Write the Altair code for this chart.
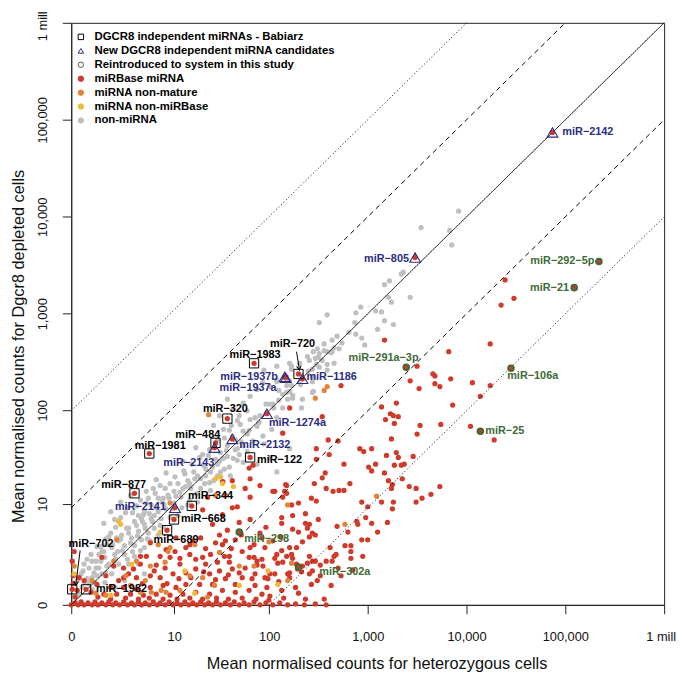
import math
import altair as alt
import pandas as pd

# ---------------------------------------------------------------
# Values, in axis units: log10(count + 1)
# (x = heterozygous cells, y = Dgcr8 depleted cells)
# ---------------------------------------------------------------
gray_log = [
    (3.92, 4.06), (3.54, 3.89), (3.83, 3.86), (3.85, 3.71), (3.36, 3.43), (3.34, 3.41), (3.22, 3.34), (3.17, 3.30),
    (3.21, 3.17), (3.24, 3.12), (3.43, 3.17), (3.08, 3.03), (3.14, 3.02), (3.17, 2.93), (3.26, 2.89), (3.10, 2.84),
    (2.88, 3.01), (2.59, 2.99), (2.51, 2.91), (2.87, 2.91), (2.81, 2.81), (2.88, 2.79), (2.69, 2.77), (2.94, 2.75),
    (2.97, 2.68), (2.64, 2.73), (2.74, 2.70), (2.56, 2.69), (2.49, 2.64), (2.45, 2.61), (2.51, 2.59), (2.59, 2.61),
    (2.64, 2.61), (2.39, 2.56), (2.47, 2.54), (2.54, 2.52), (2.66, 2.49), (2.59, 2.42), (2.21, 2.49), (2.23, 2.46),
    (1.95, 2.42), (2.08, 2.30), (1.97, 2.07), (2.04, 2.07), (2.21, 2.20), (2.24, 2.16), (2.19, 2.12), (2.32, 2.27),
    (2.44, 2.30), (2.45, 2.20), (2.93, 3.07), (2.31, 2.49), (2.23, 2.43), (2.44, 2.43), (2.40, 2.41), (2.44, 2.35),
    (2.51, 2.45), (2.23, 2.26), (2.18, 2.26), (2.18, 2.19), (2.14, 2.17), (2.10, 2.21), (2.10, 2.11), (2.05, 2.03),
    (2.14, 2.03), (2.01, 2.07), (2.24, 2.13), (2.44, 2.19), (2.33, 2.03), (2.34, 2.12), (2.21, 2.31), (2.08, 2.46),
    (2.66, 2.65), (2.71, 2.64), (2.63, 2.60), (2.56, 2.62), (2.50, 2.55), (2.41, 2.52), (2.48, 2.48), (2.59, 2.48),
    (1.64, 2.02), (1.74, 2.08), (1.81, 2.15), (1.88, 2.22), (1.94, 2.29), (2.01, 2.25), (2.08, 2.32), (2.18, 2.35),
    (1.58, 2.12), (1.68, 1.90), (1.81, 1.91), (1.88, 1.84), (1.91, 1.95), (1.74, 1.79), (1.54, 1.81), (1.63, 1.74),
    (1.58, 1.64), (1.68, 1.61), (1.74, 1.64), (1.84, 1.69), (1.94, 1.74), (2.03, 1.81), (2.08, 1.93), (1.51, 1.57),
    (1.39, 1.54), (1.54, 1.51), (1.64, 1.51), (1.74, 1.47), (1.48, 1.45), (1.34, 1.44), (1.41, 1.37), (1.51, 1.37),
    (1.61, 1.33), (1.24, 1.37), (1.31, 1.30), (1.44, 1.28), (1.54, 1.27), (1.18, 1.28), (1.08, 1.25), (1.21, 1.20),
    (1.31, 1.20), (1.41, 1.18), (1.04, 1.17), (0.98, 1.13), (1.11, 1.11), (0.88, 1.10), (0.81, 1.03), (0.94, 1.03),
    (1.04, 1.05), (0.74, 0.96), (0.88, 0.96), (0.71, 0.89), (0.81, 0.89), (0.91, 0.89), (0.64, 0.86), (0.74, 0.83),
    (0.84, 0.79), (0.58, 0.79), (0.68, 0.76), (0.78, 0.74), (0.88, 0.72), (0.51, 0.72), (0.61, 0.69), (0.71, 0.67),
    (0.48, 0.66), (0.54, 0.61), (0.64, 0.61), (0.74, 0.59), (0.41, 0.59), (0.44, 0.52), (0.54, 0.52), (0.64, 0.50),
    (0.34, 0.49), (0.38, 0.42), (0.48, 0.42), (0.58, 0.42), (0.28, 0.38), (0.31, 0.32), (0.41, 0.32), (0.21, 0.28),
    (0.14, 0.23), (0.24, 0.23), (0.34, 0.23), (0.11, 0.18), (0.21, 0.16), (0.08, 0.11), (0.28, 0.52), (0.21, 0.45),
    (0.18, 0.38), (1.18, 1.03), (1.28, 1.06), (0.68, 0.42), (0.74, 0.32), (0.54, 0.25), (0.44, 0.18), (1.88, 1.45),
    (2.01, 1.51), (2.21, 1.61), (2.08, 1.37), (0.40, 0.96), (0.33, 0.84), (0.20, 0.52), (0.13, 0.42), (0.10, 0.32),
    (0.06, 0.25), (0.50, 1.06), (0.60, 1.13), (0.76, 1.17), (0.83, 1.20), (0.90, 1.23), (1.00, 1.25), (0.93, 1.10),
    (0.73, 0.93), (0.56, 0.79), (0.46, 0.69), (0.36, 0.62), (0.30, 0.45), (0.25, 0.38), (0.36, 0.40), (0.45, 0.47),
    (0.52, 0.56), (0.60, 0.64), (0.67, 0.71), (0.75, 0.79), (0.82, 0.86), (0.96, 0.99), (1.02, 0.99), (1.10, 1.16),
    (1.16, 1.22), (1.25, 1.30), (1.36, 1.40), (1.46, 1.50), (1.57, 1.59), (1.66, 1.70), (1.78, 1.76), (1.86, 1.93),
    (0.26, 0.30), (0.16, 0.27), (0.31, 0.55), (0.40, 0.74), (0.50, 0.90), (0.66, 1.02), (0.86, 1.29), (0.96, 1.36),
    (1.13, 1.48), (1.26, 1.62), (1.44, 1.85), (1.50, 1.95), (0.57, 0.47), (0.70, 0.56), (0.80, 0.66), (0.93, 0.80),
    (1.08, 0.92), (1.20, 1.08), (1.35, 1.25), (1.48, 1.33), (1.60, 1.42), (1.70, 1.55),
    (0.30, 0.60), (0.38, 0.70), (0.45, 0.80), (0.55, 0.95), (0.62, 0.95), (0.70, 1.08), (0.78, 1.10), (0.85, 1.15),
    (0.95, 1.20), (1.05, 1.32), (1.15, 1.35), (1.22, 1.45), (1.30, 1.52), (1.40, 1.60), (1.48, 1.70), (1.55, 1.72),
    (1.62, 1.85), (1.70, 1.95), (1.78, 2.00), (0.25, 0.45), (0.33, 0.55), (0.42, 0.62), (0.50, 0.68), (0.58, 0.74),
    (0.66, 0.82), (0.72, 0.86), (0.79, 0.94), (0.86, 1.00), (0.92, 1.06), (0.99, 1.10), (1.06, 1.12), (1.13, 1.20),
    (1.20, 1.25), (1.28, 1.33), (1.36, 1.33), (1.43, 1.42), (1.50, 1.48), (1.58, 1.53), (1.66, 1.60), (1.72, 1.68),
    (1.80, 1.80), (1.90, 1.88), (1.98, 1.98), (0.18, 0.22), (0.23, 0.33), (0.35, 0.33), (0.47, 0.55), (0.62, 0.55),
    (0.77, 0.68), (0.90, 0.82), (1.00, 0.90), (1.12, 1.00), (1.27, 1.15), (1.40, 1.26), (1.55, 1.40), (1.68, 1.49),
    (1.78, 1.58), (1.95, 1.66), (0.12, 0.35), (0.16, 0.47), (0.26, 0.60), (0.35, 0.68), (0.44, 0.88), (0.57, 1.00),
    (0.68, 0.92), (0.76, 1.05), (0.84, 0.92), (1.14, 1.38), (1.33, 1.55), (1.46, 1.66), (1.60, 1.80), (1.71, 1.86),
]

red_log = [
    (4.39, 3.35), (4.48, 3.16), (4.35, 3.09), (4.24, 2.69), (3.82, 2.61), (3.50, 2.46), (3.66, 2.38), (3.68, 2.36),
    (3.84, 2.33), (3.52, 2.23), (3.68, 2.28), (3.73, 2.25), (4.06, 2.29), (4.24, 2.26), (4.14, 2.15), (3.86, 2.06),
    (3.53, 1.85), (3.74, 1.86), (4.04, 1.84), (4.28, 1.70), (3.50, 1.76), (3.17, 2.73), (3.43, 2.31), (2.73, 2.26),
    (2.21, 2.03), (2.54, 1.94), (3.14, 2.04), (3.29, 2.08), (3.23, 1.97), (3.26, 1.95), (3.31, 1.94), (3.18, 1.91),
    (3.27, 1.87), (3.24, 1.71), (2.14, 1.77), (2.60, 1.70), (2.70, 1.69), (2.48, 1.61), (3.04, 1.61), (2.92, 1.61),
    (2.96, 1.58), (3.19, 1.54), (3.29, 1.57), (3.31, 1.52), (3.46, 1.53), (3.27, 1.44), (3.34, 1.44), (3.37, 1.45),
    (2.61, 1.55), (2.48, 1.50), (2.76, 1.45), (3.01, 1.42), (3.04, 1.38), (3.08, 1.45), (3.17, 1.36), (2.57, 1.36),
    (2.54, 1.31), (3.21, 1.28), (3.25, 1.24), (3.24, 1.20), (2.82, 1.25), (2.76, 1.18), (2.71, 1.18), (2.65, 1.17),
    (2.58, 1.20), (2.46, 1.25), (2.17, 1.24), (2.06, 1.17), (2.16, 1.17), (2.14, 1.11), (3.42, 1.22), (3.49, 1.20),
    (3.73, 1.22), (3.64, 1.14), (3.55, 1.10), (3.49, 1.06), (3.26, 1.06), (3.25, 0.99), (3.14, 1.06), (2.94, 1.06),
    (3.00, 1.01), (2.43, 1.10), (2.48, 1.07), (2.30, 1.05), (2.13, 0.90), (2.24, 0.92), (2.37, 0.94), (2.50, 0.88),
    (2.41, 0.83), (2.69, 0.81), (2.89, 0.86), (2.90, 0.83), (3.04, 0.84), (2.13, 0.84), (2.24, 0.78), (2.37, 0.84),
    (2.39, 0.79), (2.44, 0.74), (2.47, 0.72), (2.80, 0.75), (2.94, 0.67), (3.00, 0.67), (2.34, 0.65), (2.41, 0.70),
    (2.28, 0.59), (2.13, 0.56), (2.62, 0.59), (2.77, 0.61), (2.83, 0.61), (2.83, 0.55), (2.68, 0.52), (2.83, 0.48),
    (2.66, 0.50), (2.23, 0.52), (2.24, 0.48), (2.41, 0.50), (2.44, 0.45), (2.06, 0.48), (2.09, 0.43), (2.14, 0.44),
    (2.18, 0.50), (2.34, 0.40), (2.39, 0.43), (2.47, 0.45), (2.52, 0.41), (2.58, 0.45), (2.64, 0.45), (2.73, 0.30),
    (2.29, 0.37), (2.33, 0.34), (2.44, 0.35), (2.49, 0.25), (2.41, 0.32), (2.21, 0.33), (2.19, 0.32), (2.06, 0.32),
    (1.99, 0.27), (2.43, 0.21), (2.13, 0.15), (2.37, 0.06), (2.56, 0.06), (2.01, 0.09),
    (1.53, 1.27), (1.63, 1.28), (1.68, 1.01), (1.81, 0.88), (1.96, 0.59), (1.85, 0.49), (1.88, 0.41), (1.94, 0.40),
    (1.93, 0.47), (1.66, 0.67), (1.56, 0.66), (1.53, 0.62), (1.46, 0.64), (1.41, 0.52), (1.55, 0.50), (1.73, 0.55),
    (1.33, 0.49), (1.36, 0.42), (1.26, 0.47), (1.20, 0.52), (1.16, 0.59), (1.31, 0.69), (1.23, 0.66), (0.96, 0.57),
    (1.00, 0.49), (0.90, 0.50), (0.76, 0.50), (0.86, 0.41), (0.70, 0.42), (0.63, 0.37), (0.53, 0.38), (0.31, 0.49),
    (0.43, 0.40), (0.53, 0.28), (0.66, 0.28), (0.80, 0.30), (0.90, 0.28), (1.03, 0.32), (1.16, 0.33), (1.26, 0.37),
    (1.40, 0.32), (1.50, 0.35), (1.63, 0.37), (1.76, 0.38), (1.86, 0.32), (1.96, 0.28), (1.73, 0.28), (1.56, 0.27),
    (1.43, 0.21), (1.30, 0.21), (1.16, 0.21), (1.06, 0.18), (0.93, 0.20), (0.80, 0.18), (0.66, 0.16), (0.53, 0.18),
    (0.40, 0.18), (0.26, 0.21), (0.13, 0.25), (0.08, 0.28), (0.06, 0.15), (0.20, 0.13), (0.33, 0.11), (0.46, 0.11),
    (0.60, 0.11), (0.73, 0.10), (0.86, 0.11), (1.00, 0.10), (1.13, 0.11), (1.26, 0.13), (1.40, 0.11), (1.53, 0.15),
    (1.66, 0.13), (1.80, 0.15), (1.93, 0.11), (1.66, 0.21), (1.86, 0.20), (1.80, 0.49), (1.60, 0.44), (1.48, 0.44),
    (1.10, 0.42), (1.06, 0.69), (0.80, 0.64), (1.43, 0.83), (1.53, 0.93), (1.63, 1.00), (1.33, 0.98), (1.38, 1.11),
    (1.81, 1.11), (1.91, 1.23), (1.76, 1.20), (1.93, 0.69), (1.85, 0.62), (2.18, 1.23), (2.18, 1.15), (2.04, 1.17),
    (2.23, 1.03), (1.91, 0.74), (1.58, 0.77), (1.81, 0.59), (1.88, 0.45), (2.08, 0.52), (2.21, 0.59), (2.28, 0.42),
    (2.01, 0.32), (2.21, 0.28), (1.80, 1.41), (1.84, 1.44), (1.81, 1.30), (0.02, 0.30), (0.01, 0.45), (0.03, 0.55),
    (0.02, 0.22), (0.04, 0.08),
    (0.35, 0.30), (0.48, 0.25), (0.58, 0.32), (0.72, 0.22), (0.84, 0.35), (0.97, 0.22), (1.09, 0.27), (1.21, 0.28),
    (1.34, 0.34), (1.46, 0.26), (1.59, 0.31), (1.70, 0.33), (1.83, 0.27), (1.98, 0.18), (2.10, 0.24), (2.27, 0.18),
    (0.27, 0.08), (0.40, 0.06), (0.55, 0.07), (0.68, 0.06), (0.79, 0.07), (0.93, 0.06), (1.07, 0.06), (1.20, 0.07),
    (1.33, 0.06), (1.47, 0.07), (1.59, 0.06), (1.73, 0.07), (1.87, 0.06), (2.00, 0.05), (2.15, 0.07), (2.30, 0.12),
    (1.05, 0.55), (1.20, 0.62), (1.36, 0.58), (1.50, 0.72), (1.62, 0.58), (1.72, 0.72), (1.97, 0.80), (2.04, 0.66),
    (2.12, 0.70), (2.30, 0.75), (1.70, 0.85), (1.60, 0.50), (1.10, 0.48), (0.95, 0.38), (0.70, 0.50), (2.52, 0.30),
    (2.63, 0.20), (2.70, 0.38), (2.85, 0.36), (2.95, 0.50), (3.10, 0.75), (3.20, 0.85), (2.98, 0.90), (3.35, 1.30),
]

# red dots lying on (or just above) the zero line of the depleted cells
red_zero_log = [
    (0.00, 0.00), (0.04, 0.02), (0.07, 0.00), (0.10, 0.03), (0.13, 0.00), (0.17, 0.02), (0.21, 0.00), (0.24, 0.03),
    (0.27, 0.00), (0.31, 0.02), (0.35, 0.00), (0.38, 0.03), (0.42, 0.00), (0.45, 0.02), (0.49, 0.00), (0.53, 0.03),
    (0.57, 0.00), (0.61, 0.02), (0.64, 0.00), (0.68, 0.03), (0.71, 0.00), (0.75, 0.02), (0.79, 0.00), (0.83, 0.03),
    (0.87, 0.00), (0.90, 0.02), (0.95, 0.00), (0.99, 0.03), (1.03, 0.00), (1.07, 0.02), (1.11, 0.00), (1.15, 0.03),
    (1.19, 0.00), (1.23, 0.02), (1.27, 0.00), (1.31, 0.03), (1.35, 0.00), (1.39, 0.02), (1.43, 0.00), (1.47, 0.03),
    (1.51, 0.00), (1.56, 0.02), (1.61, 0.00), (1.65, 0.03), (1.70, 0.00), (1.75, 0.02), (1.80, 0.00), (1.85, 0.03),
    (1.91, 0.00), (1.97, 0.02), (2.04, 0.00), (2.11, 0.02), (2.19, 0.00), (2.27, 0.01), (2.36, 0.00), (2.47, 0.01),
    (2.58, 0.00),
]

orange_log = [
    (1.00, 1.05), (1.46, 1.13), (1.00, 0.59), (0.88, 0.62), (0.43, 0.45), (0.66, 0.45), (0.80, 0.40), (0.95, 0.44),
    (0.70, 0.13), (0.81, 0.13), (0.91, 0.15), (0.96, 0.13), (0.21, 0.25), (1.10, 0.15), (1.50, 0.54), (1.38, 0.08),
    (1.33, 0.28), (1.56, 1.13), (0.46, 0.67), (1.39, 1.96), (0.98, 0.55), (2.59, 2.25), (2.56, 2.21), (2.47, 2.13),
    (2.19, 1.03), (3.09, 1.12), (2.77, 0.83), (2.23, 0.43), (2.19, 0.25), (0.03, 0.40), (1.20, 0.30), (0.60, 0.20),
    (1.70, 0.40), (1.25, 0.62), (0.35, 0.10), (0.55, 0.30), (1.45, 0.20), (0.25, 0.12), (1.85, 0.40), (2.00, 0.65),
    (0.75, 0.25),
]

yellow_log = [
    (0.48, 0.86), (0.50, 0.83), (0.61, 0.42), (1.46, 1.30), (0.03, 0.32), (1.51, 1.32), (1.53, 1.25), (1.64, 1.22),
    (1.99, 0.35), (2.09, 0.21), (0.90, 0.75), (1.15, 0.35), (1.70, 0.20), (0.40, 0.10), (1.25, 0.12),
]

babiarz_names = ["miR−702", "miR−1982", "miR−689", "miR−668", "miR−344", "miR−877",
                 "miR−1981", "miR−484", "miR−320", "miR−122", "miR−1983", "miR−720"]
babiarz_log = [(0.01, 0.16), (0.15, 0.16), (0.97, 0.77), (1.04, 0.88), (1.22, 1.02), (0.64, 1.15),
               (0.79, 1.56), (1.46, 1.67), (1.58, 1.92), (1.81, 1.52), (1.85, 2.49), (2.30, 2.38)]

new_names = ["miR−2141", "miR−2143", "miR−2132", "miR−1274a", "miR−1937b", "miR−1937a",
             "miR−1186", "miR−805", "miR−2142"]
new_log = [(1.05, 1.00), (1.45, 1.62), (1.63, 1.71), (1.98, 1.97), (2.16, 2.35), (2.17, 2.34),
           (2.34, 2.33), (3.48, 3.58), (4.87, 4.87)]

reintro_names = ["miR−292−5p", "miR−21", "miR−106a", "miR−25", "miR−291a−3p", "miR−298", "miR−302a"]
reintro_log = [(5.34, 3.54), (5.09, 3.27), (4.45, 2.44), (4.14, 1.79), (3.39, 2.45), (1.70, 0.75), (2.30, 0.39)]

# where each name label sits (axis units)
label_log = {
    "miR−702": (0.20, 0.63), "miR−1982": (0.25, 0.16), "miR−689": (1.06, 0.67), "miR−668": (1.11, 0.88),
    "miR−344": (1.41, 1.12), "miR−877": (0.53, 1.24), "miR−1981": (0.90, 1.64), "miR−484": (1.28, 1.75),
    "miR−320": (1.56, 2.02), "miR−122": (1.88, 1.49), "miR−1983": (1.86, 2.58), "miR−720": (2.24, 2.69),
    "miR−2141": (0.70, 1.01), "miR−2143": (1.19, 1.46), "miR−2132": (1.70, 1.65), "miR−1274a": (2.00, 1.87),
    "miR−1937b": (1.80, 2.35), "miR−1937a": (1.79, 2.23), "miR−1186": (2.38, 2.35), "miR−805": (3.19, 3.56),
    "miR−2142": (4.97, 4.87), "miR−292−5p": (4.97, 3.54), "miR−21": (4.84, 3.27), "miR−106a": (4.67, 2.36),
    "miR−25": (4.19, 1.79), "miR−291a−3p": (3.16, 2.54), "miR−298": (1.75, 0.68), "miR−302a": (2.51, 0.34),
}
left_aligned = {"miR−1982", "miR−668", "miR−122", "miR−2132", "miR−1274a", "miR−1186", "miR−2142",
                "miR−25", "miR−298", "miR−302a"}

# arrows (start, end) in axis units
arrows_log = [((0.09, 0.56), (0.045, 0.20)), ((2.28, 2.61), (2.31, 2.42))]

tick_values = [0, 10, 100, 1000, 10000, 100000, 1000000]

# diagonal reference lines: (start, end) in axis units
lines_log = {
    "solid": [((0, 0), (6, 6))],
    "dashed": [((0, 1), (5, 6)), ((1, 0), (6, 5))],
    "dotted": [((0, 2), (4, 6)), ((2, 0), (6, 4))],
}

# ---------------------------------------------------------------
CATS = ["DGCR8 independent miRNAs - Babiarz", "New DGCR8 independent miRNA candidates",
        "Reintroduced to system in this study", "miRBase miRNA", "miRNA non-mature",
        "miRNA non-miRBase", "non-miRNA"]
RED, ORANGE, YELLOW, GRAY = "#cf3a2b", "#e0843a", "#efb93a", "#bfbfbf"
NAVY, GREEN = "#2c2c82", "#3e6a36"
SHAPES = ["square", "triangle-up", "circle", "circle", "circle", "circle", "circle"]
FILLS = ["transparent", "transparent", "transparent", RED, ORANGE, YELLOW, GRAY]
STROKES = ["black", NAVY, GREEN, RED, ORANGE, YELLOW, GRAY]


def cnt(v):
    return 10 ** v - 1


rows = []


def add(pairs, cat, kind):
    for lx, ly in pairs:
        rows.append({"het": cnt(lx), "dg": cnt(ly), "cat": cat, "kind": kind})


add(gray_log, CATS[6], "dot")
add(red_log + red_zero_log, CATS[3], "dot")
add(orange_log, CATS[4], "dot")
add(yellow_log, CATS[5], "dot")
add(babiarz_log + new_log + reintro_log, CATS[3], "inner")
add(babiarz_log, CATS[0], "marker")
add(new_log, CATS[1], "marker")
add(reintro_log, CATS[2], "marker")
pts = pd.DataFrame(rows)

line_rows = []
for style, segs in lines_log.items():
    for i, (a, b) in enumerate(segs):
        for p in (a, b):
            line_rows.append({"het": cnt(p[0]), "dg": cnt(p[1]), "id": f"{style}{i}", "style": style})
lines = pd.DataFrame(line_rows)

arr_rows = []
for (a, b) in arrows_log:
    dxp = (b[0] - a[0]) * 100.0
    dyp = -(b[1] - a[1]) * 98.0
    ang = math.degrees(math.atan2(-dxp, dyp)) % 360
    arr_rows.append({"het": cnt(a[0]), "dg": cnt(a[1]), "het2": cnt(b[0]), "dg2": cnt(b[1]),
                     "hx": cnt(b[0]), "hy": cnt(b[1]), "ang": ang})
arrows = pd.DataFrame(arr_rows)

group_of = {}
for n in babiarz_names:
    group_of[n] = "black"
for n in new_names:
    group_of[n] = NAVY
for n in reintro_names:
    group_of[n] = GREEN
labels = pd.DataFrame([{"text": n, "het": cnt(p[0]), "dg": cnt(p[1]), "grp": group_of[n],
                        "al": "left" if n in left_aligned else "center"} for n, p in label_log.items()])

# ---------------------------------------------------------------
FONT = "Liberation Sans"
label_expr = "datum.value >= 1000000 ? '1 mill' : format(datum.value, ',')"
xscale = alt.Scale(type="symlog", constant=1, domain=[0, 1000000], nice=False)
yscale = alt.Scale(type="symlog", constant=1, domain=[0, 1000000], nice=False)
common_axis = dict(values=tick_values, labelExpr=label_expr, grid=False, domainColor="#222",
                   tickColor="#222", tickSize=9, labelFont=FONT, labelFontSize=13, labelColor="#111",
                   labelFlush=False, labelOverlap=False, titleFont=FONT, titleFontSize=16.5,
                   titleFontWeight="normal", titleColor="#111", titleBaseline="alphabetic",
                   titleAlign="center")
xaxis = alt.Axis(title="Mean normalised counts for heterozygous cells", labelBaseline="alphabetic",
                 labelPadding=27, titleX=309, titleY=64,
                 labelOffset={"condition": {"test": "datum.value >= 1000000", "value": -3.5}, "value": 0},
                 **common_axis)
yaxis = alt.Axis(title="Mean normalised counts for Dgcr8 depleted cells", labelAngle=270,
                 labelAlign="center", labelBaseline="alphabetic", labelPadding=16, titleAngle=270,
                 titleX=-48, titleY=327,
                 labelOffset={"condition": {"test": "datum.value >= 1000000", "value": 3}, "value": 0},
                 **common_axis)

X = alt.X("het:Q", scale=xscale, axis=xaxis)
Y = alt.Y("dg:Q", scale=yscale, axis=yaxis)

leg = alt.Legend(title=None, orient="none", legendX=4, legendY=8.5, padding=0, symbolSize=30,
                 symbolStrokeWidth=1, labelFont=FONT, labelFontWeight="bold", labelFontSize=11.5,
                 labelColor="black", rowPadding=1.1, labelOffset=8, labelLimit=400)

base = alt.Chart(pts).encode(
    x=X, y=Y,
    shape=alt.Shape("cat:N", scale=alt.Scale(domain=CATS, range=SHAPES), legend=leg),
    fill=alt.Fill("cat:N", scale=alt.Scale(domain=CATS, range=FILLS), legend=leg),
    stroke=alt.Stroke("cat:N", scale=alt.Scale(domain=CATS, range=STROKES), legend=leg),
)


def dots_of(cat, kind="dot"):
    return base.transform_filter(f"datum.cat == '{cat}' && datum.kind == '{kind}'").mark_point(
        size=28, strokeWidth=0, opacity=1)


layers = [dots_of(CATS[6]), dots_of(CATS[3]), dots_of(CATS[4]), dots_of(CATS[5])]

for style, dash in [("solid", [1, 0]), ("dashed", [5, 4]), ("dotted", [1, 2.5])]:
    layers.append(
        alt.Chart(lines).transform_filter(f"datum.style == '{style}'")
        .mark_line(color="black", strokeWidth=1, strokeDash=dash)
        .encode(x=X, y=Y, detail="id:N")
    )

layers.append(dots_of(CATS[3], "inner"))
marker_style = {CATS[0]: (88, 1.0), CATS[1]: (120, 1.1), CATS[2]: (32, 2.0)}
for cat, (sz, sw) in marker_style.items():
    layers.append(base.transform_filter(f"datum.cat == '{cat}' && datum.kind == 'marker'")
                  .mark_point(size=sz, strokeWidth=sw, opacity=1))

layers.append(alt.Chart(arrows).mark_rule(color="black", strokeWidth=1)
              .encode(x=X, y=Y, x2="het2:Q", y2="dg2:Q"))
layers.append(alt.Chart(arrows).mark_point(shape="M -0.55 -1 L 0 0 L 0.55 -1", filled=False, size=70,
                                            color="black", strokeWidth=1, opacity=1)
              .encode(x=alt.X("hx:Q", scale=xscale, axis=xaxis), y=alt.Y("hy:Q", scale=yscale, axis=yaxis),
                      angle=alt.Angle("ang:Q", scale=None)))

for grp in ["black", NAVY, GREEN]:
    for al in ["center", "left"]:
        layers.append(
            alt.Chart(labels).transform_filter(f"datum.grp == '{grp}' && datum.al == '{al}'")
            .mark_text(font=FONT, fontWeight="bold", fontSize=11, align=al, baseline="middle", color=grp)
            .encode(x=X, y=Y, text="text:N")
        )

chart = (
    alt.layer(*layers)
    .properties(width=600, height=589, autosize=alt.AutoSizeParams(type="none"),
                padding={"left": 64, "top": 11, "right": 12, "bottom": 68}, background="white")
    .configure_view(stroke="#222", strokeWidth=1)
)

chart.save("out.html", embed_options={"renderer": "svg", "actions": False})
